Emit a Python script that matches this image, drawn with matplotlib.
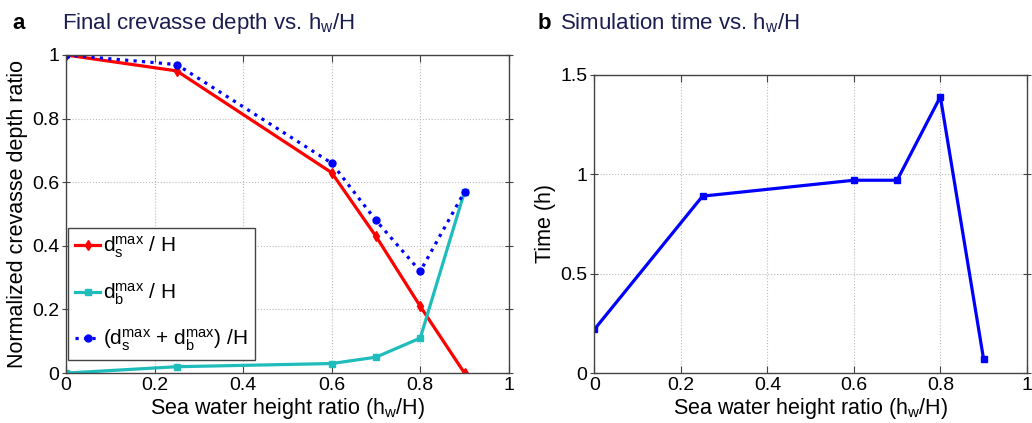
import matplotlib
matplotlib.use('Agg')
import matplotlib.pyplot as plt

plt.rcParams['font.family'] = ['Liberation Sans', 'DejaVu Sans']
plt.rcParams['mathtext.fontset'] = 'custom'
plt.rcParams['mathtext.rm'] = 'Liberation Sans'
plt.rcParams['mathtext.it'] = 'Liberation Sans'

hw_ratio = [0, 0.25, 0.6, 0.7, 0.8, 0.9]
ds_ratio = [1.0, 0.95, 0.63, 0.43, 0.21, 0.0]
db_ratio = [0.0, 0.02, 0.03, 0.05, 0.11, 0.57]
sum_ratio = [1.0, 0.97, 0.66, 0.48, 0.32, 0.57]
sim_time = [0.22, 0.89, 0.97, 0.97, 1.39, 0.07]

title_color = '#1c1c50'
cyan = '#1fbcbc'
spine_color = '#444444'

fig = plt.figure(figsize=(10.32, 4.23), dpi=100)
ax1 = fig.add_axes([0.064, 0.118, 0.429, 0.752])
ax2 = fig.add_axes([0.576, 0.118, 0.419, 0.705])

for ax in (ax1, ax2):
    ax.grid(True, linestyle=':', color='#bbbbbb', linewidth=0.8)
    ax.tick_params(axis='x', direction='in', top=True, labelsize=14, length=5,
                   color=spine_color, pad=3)
    ax.tick_params(axis='y', direction='inout', right=True, labelsize=14, length=6,
                   color=spine_color, pad=2)
    ax.set_xlim(0, 1)
    ax.set_xticks([0, 0.2, 0.4, 0.6, 0.8, 1])
    ax.set_xticklabels(['0', '0.2', '0.4', '0.6', '0.8', '1'])
    ax.set_xlabel('Sea water height ratio (h$_{\\rm w}$/H)', fontsize=15.5, labelpad=1)
    for s in ax.spines.values():
        s.set_linewidth(1.0)
        s.set_color(spine_color)

# panel a
ax1.plot(hw_ratio, ds_ratio, color='red', lw=2.3, marker='d', ms=5,
         label='d$_{\\rm s}^{\\rm max}$ / H')
ax1.plot(hw_ratio, db_ratio, color=cyan, lw=2.3, marker='s', ms=4.5,
         label='d$_{\\rm b}^{\\rm max}$ / H')
ax1.plot(hw_ratio, sum_ratio, color='blue', lw=2.3, ls=':', marker='o', ms=5,
         label='(d$_{\\rm s}^{\\rm max}$ + d$_{\\rm b}^{\\rm max}$) /H')
ax1.set_ylim(0, 1)
ax1.set_yticks([0, 0.2, 0.4, 0.6, 0.8, 1])
ax1.set_yticklabels(['0', '0.2', '0.4', '0.6', '0.8', '1'])
ax1.set_ylabel('Normalized crevasse depth ratio', fontsize=15.5, labelpad=3)
leg = ax1.legend(loc='lower left', bbox_to_anchor=(0.004, 0.04), fontsize=15,
                 frameon=True, fancybox=False, edgecolor=spine_color,
                 handlelength=1.2, handletextpad=0.15, borderaxespad=0.0,
                 labelspacing=1.0, borderpad=0.35, framealpha=1)
leg.get_frame().set_linewidth(1.0)

# panel b
ax2.plot(hw_ratio, sim_time, color='blue', lw=2.3, marker='s', ms=4)
ax2.set_ylim(0, 1.5)
ax2.set_yticks([0, 0.5, 1, 1.5])
ax2.set_yticklabels(['0', '0.5', '1', '1.5'])
ax2.set_ylabel('Time (h)', fontsize=15.5, labelpad=3)

fig.text(0.012, 0.945, 'a', fontsize=16, fontweight='bold', va='center')
fig.text(0.060, 0.945, 'Final crevasse depth vs. h$_{\\rm w}$/H', fontsize=16,
         color=title_color, va='center')
fig.text(0.521, 0.945, 'b', fontsize=16, fontweight='bold', va='center')
fig.text(0.543, 0.945, 'Simulation time vs. h$_{\\rm w}$/H', fontsize=16,
         color=title_color, va='center')

fig.savefig('out.png', dpi=100)
